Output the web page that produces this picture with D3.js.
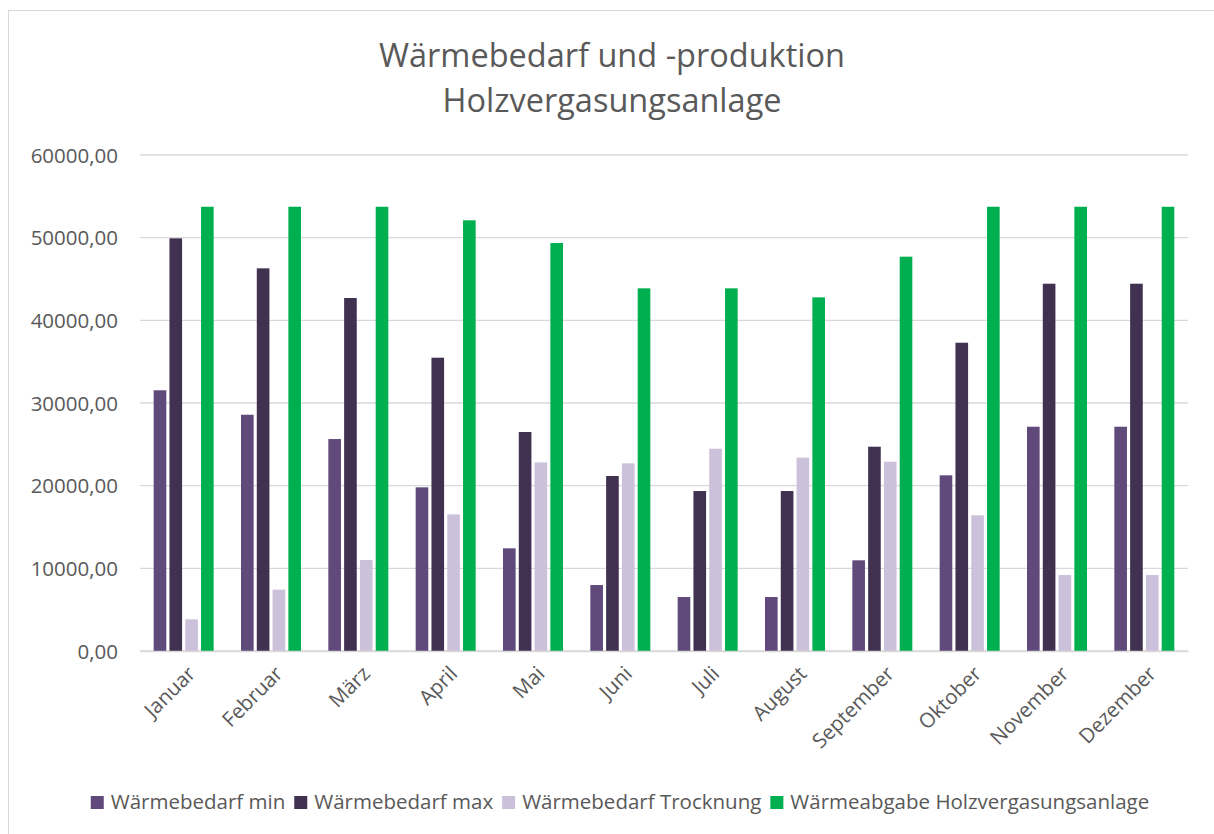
<!DOCTYPE html>
<html><head><meta charset="utf-8">
<script src="https://cdn.jsdelivr.net/npm/d3@7"></script>
<style>
html,body{margin:0;padding:0;background:#fff;}
svg text{font-family:"Open Sans","Noto Sans",sans-serif;fill:#595959;}
</style></head>
<body>
<svg id="chart" width="1214" height="834"></svg>
<script>
const titleLines = ["Wärmebedarf und -produktion", "Holzvergasungsanlage"];
const months = ["Januar","Februar","März","April","Mai","Juni","Juli","August","September","Oktober","November","Dezember"];
const seriesNames = ["Wärmebedarf min","Wärmebedarf max","Wärmebedarf Trocknung","Wärmeabgabe Holzvergasungsanlage"];
const seriesColors = ["#604A7B","#403151","#CCC1DA","#00B050"];
const bedarfMin = [31540,28580,25640,19800,12420,7980,6530,6530,10970,21250,27130,27130];
const bedarfMax = [49920,46290,42700,35480,26490,21170,19350,19350,24710,37290,44430,44430];
const bedarfTrocknung = [3830,7420,11010,16530,22820,22700,24470,23390,22900,16410,9190,9190];
const abgabeHolz = [53740,53740,53740,52100,49350,43870,43870,42780,47700,53740,53740,53740];
const yTicks = [0,10000,20000,30000,40000,50000,60000];

const seriesValues = [bedarfMin, bedarfMax, bedarfTrocknung, abgabeHolz];
const svg = d3.select("#chart");

// chart border
svg.append("rect").attr("x",8.5).attr("y",10.5).attr("width",1220).attr("height",840)
  .attr("fill","none").attr("stroke","#D9D9D9").attr("stroke-width",1);

// title
svg.append("g").selectAll("text").data(titleLines).join("text")
  .attr("x",612).attr("y",(d,i)=>67+i*45).attr("text-anchor","middle")
  .style("font-size","32.5px").text(d=>d);

const x0 = d3.scaleBand().domain(months).range([140,1188]).paddingInner(0.313).paddingOuter(0.1565);
const x1 = d3.scaleBand().domain(d3.range(4)).range([0,x0.bandwidth()]).paddingInner(0.2);
const y = d3.scaleLinear().domain([0,60000]).range([651,155]);

// gridlines
svg.append("g").selectAll("line").data(yTicks).join("line")
  .attr("x1",140).attr("x2",1188).attr("y1",d=>y(d)).attr("y2",d=>y(d))
  .attr("stroke","#D9D9D9").attr("stroke-width",1.3);

// y axis
const yAxis = d3.axisLeft(y).tickValues(yTicks).tickSize(0).tickPadding(0)
  .tickFormat(d=>d3.format(".2f")(d).replace(".",","));
const ya = svg.append("g").attr("transform","translate(118,0)").call(yAxis);
ya.select(".domain").remove();
ya.selectAll("text").style("font-size","20.5px").attr("fill","#595959").attr("dy","0.35em");

// bars
const groups = svg.append("g").selectAll("g").data(months).join("g")
  .attr("transform",d=>`translate(${x0(d)},0)`);
groups.selectAll("rect").data((m,i)=>seriesValues.map((s,k)=>({k, v:s[i]}))).join("rect")
  .attr("x",d=>x1(d.k)).attr("width",x1.bandwidth())
  .attr("y",d=>y(d.v)).attr("height",d=>y(0)-y(d.v))
  .attr("fill",d=>seriesColors[d.k]);

// x axis
const xAxis = d3.axisBottom(x0).tickSize(0).tickPadding(0);
const xa = svg.append("g").attr("transform","translate(0,651)").call(xAxis);
xa.select(".domain").attr("stroke","#D9D9D9").attr("stroke-width",1.3);
xa.selectAll("text").style("font-size","20.5px").attr("fill","#595959")
  .attr("text-anchor","end").attr("dy",null).attr("y",null)
  .attr("transform","translate(13,24) rotate(-45)");

// legend
const lg = svg.append("g");
const items = lg.selectAll("g").data(seriesNames).join("g");
items.append("rect").attr("width",13).attr("height",13).attr("y",-13).attr("fill",(d,i)=>seriesColors[i]);
items.append("text").attr("x",20).attr("y",0).style("font-size","20.5px").text(d=>d);
let cx = 0; const pos=[];
items.each(function(d,i){ const w = d3.select(this).select("text").node().getComputedTextLength(); pos.push(cx); cx += 20 + w + 9; });
const totalW = cx - 9;
items.attr("transform",(d,i)=>`translate(${pos[i]},0)`);
lg.attr("transform",`translate(${620 - totalW/2},809)`);
</script>
</body></html>
